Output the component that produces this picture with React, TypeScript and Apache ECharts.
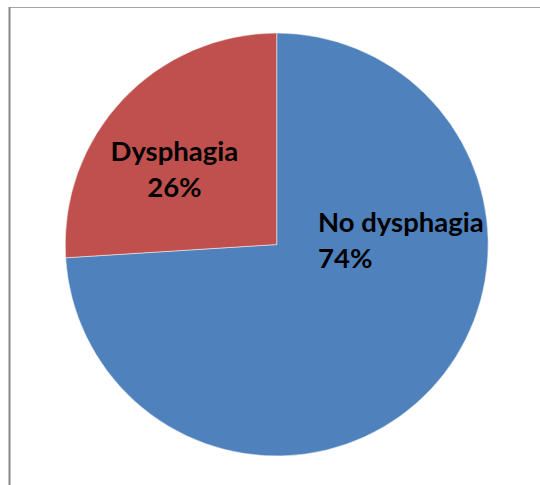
import React, { useEffect, useRef } from "react";
import * as echarts from "echarts";

const categories = ["No dysphagia", "Dysphagia"];
const values = [74, 26];
const colors = ["#4F81BD", "#C0504D"];

// label nudges per slice, relative to the default inside position
const labelShift = [
  { dx: -38, dy: -79, align: "left" },
  { dx: -23, dy: -2, align: "center" },
];

export default function App() {
  const ref = useRef<HTMLDivElement>(null);

  useEffect(() => {
    document.body.style.margin = "0";
    if (!ref.current) return;
    const chart = echarts.init(ref.current, null, { renderer: "svg" });
    chart.setOption({
      animation: false,
      backgroundColor: "#ffffff",
      graphic: [
        {
          type: "line",
          shape: { x1: 9.5, y1: 7.5, x2: 540, y2: 7.5 },
          style: { stroke: "#a6a6a6", lineWidth: 1 },
          silent: true,
        },
        {
          type: "line",
          shape: { x1: 9.5, y1: 7, x2: 9.5, y2: 485 },
          style: { stroke: "#868686", lineWidth: 2 },
          silent: true,
        },
      ],
      series: [
        {
          type: "pie",
          center: [276.7, 244.5],
          radius: 211.5,
          startAngle: 90,
          clockwise: true,
          label: {
            show: true,
            position: "inside",
            formatter: "{b}\n{d}%",
            color: "#000000",
            fontFamily: "Lato, 'Liberation Sans', sans-serif",
            fontWeight: "bold",
            fontSize: 27.5,
            lineHeight: 36,
          },
          labelLine: { show: false },
          itemStyle: { borderColor: "#ffffff", borderWidth: 0.5 },
          emphasis: { disabled: true },
          labelLayout: (params: any) => {
            const s = labelShift[params.dataIndex];
            return { dx: s.dx, dy: s.dy, align: s.align };
          },
          data: categories.map((name, i) => ({
            name,
            value: values[i],
            itemStyle: { color: colors[i] },
          })),
        },
      ],
    });
    return () => chart.dispose();
  }, []);

  return <div ref={ref} style={{ width: 540, height: 485 }} />;
}
